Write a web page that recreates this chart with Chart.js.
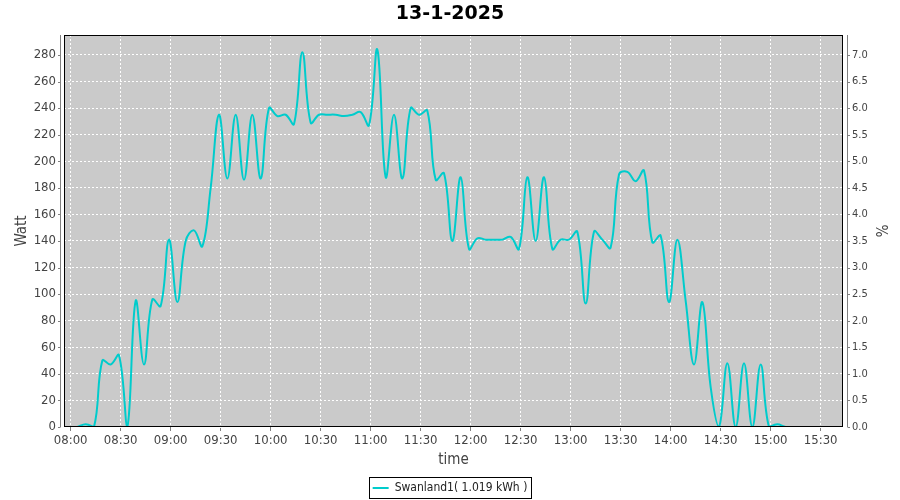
<!DOCTYPE html>
<html>
<head>
<meta charset="utf-8">
<script src="https://cdn.jsdelivr.net/npm/chart.js@4.4.1/dist/chart.umd.min.js"></script>
<style>
  html, body { margin: 0; padding: 0; background: #fff; }
  canvas { display: block; }
</style>
</head>
<body>
<canvas id="powerChart" width="900" height="500"></canvas>
<script>
const chartTitle = '13-1-2025';
const seriesName = 'Swanland1( 1.019 kWh )';

// samples, one every 5 minutes
const times = [
  '08:04','08:09','08:14','08:19','08:24','08:29','08:34','08:39','08:44','08:49','08:54','08:59',
  '09:04','09:09','09:14','09:19','09:24','09:29','09:34','09:39','09:44','09:49','09:54','09:59',
  '10:04','10:09','10:14','10:19','10:24','10:29','10:34','10:39','10:44','10:49','10:54','10:59',
  '11:04','11:09','11:14','11:19','11:24','11:29','11:34','11:39','11:44','11:49','11:54','11:59',
  '12:04','12:09','12:14','12:19','12:24','12:29','12:34','12:39','12:44','12:49','12:54','12:59',
  '13:04','13:09','13:14','13:19','13:24','13:29','13:34','13:39','13:44','13:49','13:54','13:59',
  '14:04','14:09','14:14','14:19','14:24','14:29','14:34','14:39','14:44','14:49','14:54','14:59',
  '15:04','15:09','15:14','15:19','15:24','15:29','15:34'
];
const watts = [
  0, 2, 0, 50, 47, 54, 0, 95, 47, 96, 91, 141,
  94, 140, 148, 136, 180, 235, 187, 235, 186, 235, 187, 240,
  234, 235, 228, 282, 229, 235, 235, 235, 234, 235, 237, 227,
  284, 188, 235, 187, 240, 235, 238, 186, 191, 140, 188, 134,
  142, 141, 141, 141, 143, 134, 188, 140, 188, 134, 141, 141,
  147, 93, 147, 141, 135, 190, 192, 185, 193, 139, 144, 94,
  141, 95, 47, 94, 30, 0, 48, 0, 48, 0, 47, 0,
  2, 0, 0, 0, 0, 0, 0
];
const timeTicks = ['08:00','08:30','09:00','09:30','10:00','10:30','11:00','11:30',
  '12:00','12:30','13:00','13:30','14:00','14:30','15:00','15:30'];
const timeRange = ['07:56', '15:43'];
const wattRange = [0, 295];
const percentRange = [0, 7.375];

const FONT = "'DejaVu Sans Condensed', 'DejaVu Sans', sans-serif";
const TEXT = '#444';
const AXIS = '#808080';

function toMin(hhmm) { const [h, m] = hhmm.split(':').map(Number); return h * 60 + m; }
function fmtMin(v) {
  const h = Math.floor(v / 60), m = Math.round(v % 60);
  return String(h).padStart(2, '0') + ':' + String(m).padStart(2, '0');
}

// grey plot, black frame, offset axis lines and the legend box
const frame = {
  id: 'frame',
  beforeDraw(chart) {
    const { ctx, chartArea: a } = chart;
    ctx.save();
    ctx.fillStyle = '#fff';
    ctx.fillRect(0, 0, chart.width, chart.height);
    ctx.fillStyle = '#cacaca';
    ctx.fillRect(a.left, a.top, a.right - a.left, a.bottom - a.top);
    ctx.restore();
  },
  afterDraw(chart) {
    const { ctx, chartArea: a } = chart;
    ctx.save();
    ctx.strokeStyle = '#000';
    ctx.lineWidth = 1;
    ctx.strokeRect(a.left + 0.5, a.top + 0.5, a.right - a.left - 1, a.bottom - a.top - 1);

    const lx = Math.round(a.left) - 3.5, rx = Math.round(a.right) + 4.5;
    ctx.strokeStyle = AXIS;
    ctx.beginPath();
    ctx.moveTo(lx, a.top); ctx.lineTo(lx, a.bottom);
    ctx.moveTo(rx, a.top); ctx.lineTo(rx, a.bottom);
    chart.scales.y.ticks.forEach(t => {
      const py = Math.round(chart.scales.y.getPixelForValue(t.value)) + 0.5;
      ctx.moveTo(lx - 2.5, py); ctx.lineTo(lx, py);
    });
    chart.scales.y1.ticks.forEach(t => {
      const py = Math.round(chart.scales.y1.getPixelForValue(t.value)) + 0.5;
      ctx.moveTo(rx, py); ctx.lineTo(rx + 2.5, py);
    });
    ctx.stroke();

    ctx.strokeStyle = '#000';
    const hb = chart.legend.legendHitBoxes[0];
    if (hb) ctx.strokeRect(Math.round(hb.left) - 3.5, Math.round(hb.top) - 4.5, Math.round(hb.width) + 7, Math.round(hb.height) + 9);
    ctx.restore();
  }
};

new Chart(document.getElementById('powerChart'), {
  type: 'line',
  data: {
    datasets: [{
      label: seriesName,
      data: times.map((t, i) => ({ x: toMin(t), y: watts[i] })),
      borderColor: '#00cccc',
      backgroundColor: '#00cccc',
      borderWidth: 2,
      pointRadius: 0,
      tension: 0.4,
      fill: false,
      yAxisID: 'y'
    }]
  },
  options: {
    responsive: false,
    animation: false,
    layout: { padding: { bottom: -4 } },
    plugins: {
      title: {
        display: true, text: chartTitle, color: '#000',
        font: { family: "'DejaVu Sans'", size: 19, weight: 'bold' },
        padding: { top: 3, bottom: 9.2 }
      },
      legend: {
        position: 'bottom',
        labels: {
          usePointStyle: true, pointStyle: 'line', pointStyleWidth: 16,
          color: '#222', font: { family: FONT, size: 12 }, padding: 6
        }
      },
      tooltip: { enabled: false }
    },
    scales: {
      x: {
        type: 'linear', min: toMin(timeRange[0]), max: toMin(timeRange[1]) + 0.4,
        afterBuildTicks: s => { s.ticks = timeTicks.map(t => ({ value: toMin(t) })); },
        ticks: { callback: v => fmtMin(v), color: TEXT, font: { family: FONT, size: 13 }, padding: 2, maxRotation: 0, autoSkip: false },
        grid: { color: '#fff', tickColor: AXIS, tickLength: 4 },
        border: { display: false, dash: [2, 2] },
        title: { display: true, text: 'time', color: TEXT, font: { family: FONT, size: 15 }, padding: { top: 0, bottom: 7 } },
        afterFit: s => { s.height = 49; }
      },
      y: {
        position: 'left', min: wattRange[0], max: wattRange[1],
        ticks: { stepSize: 20, includeBounds: false, color: TEXT, font: { family: FONT, size: 13 }, padding: 8 },
        grid: { color: '#fff', drawTicks: false },
        border: { display: false, dash: [2, 2] },
        title: { display: true, text: 'Watt', color: TEXT, font: { family: FONT, size: 15 }, padding: { top: 13 } },
        afterFit: s => { s.width = 64; }
      },
      y1: {
        position: 'right', min: percentRange[0], max: percentRange[1],
        ticks: { stepSize: 0.5, includeBounds: false, callback: v => v.toFixed(1), color: TEXT, font: { family: FONT, size: 11 }, padding: 9 },
        grid: { drawOnChartArea: false, drawTicks: false },
        border: { display: false },
        title: { display: true, text: '%', color: TEXT, font: { family: FONT, size: 15 }, padding: { top: 11 } },
        afterFit: s => { s.width = 57; }
      }
    }
  },
  plugins: [frame]
});
</script>
</body>
</html>
